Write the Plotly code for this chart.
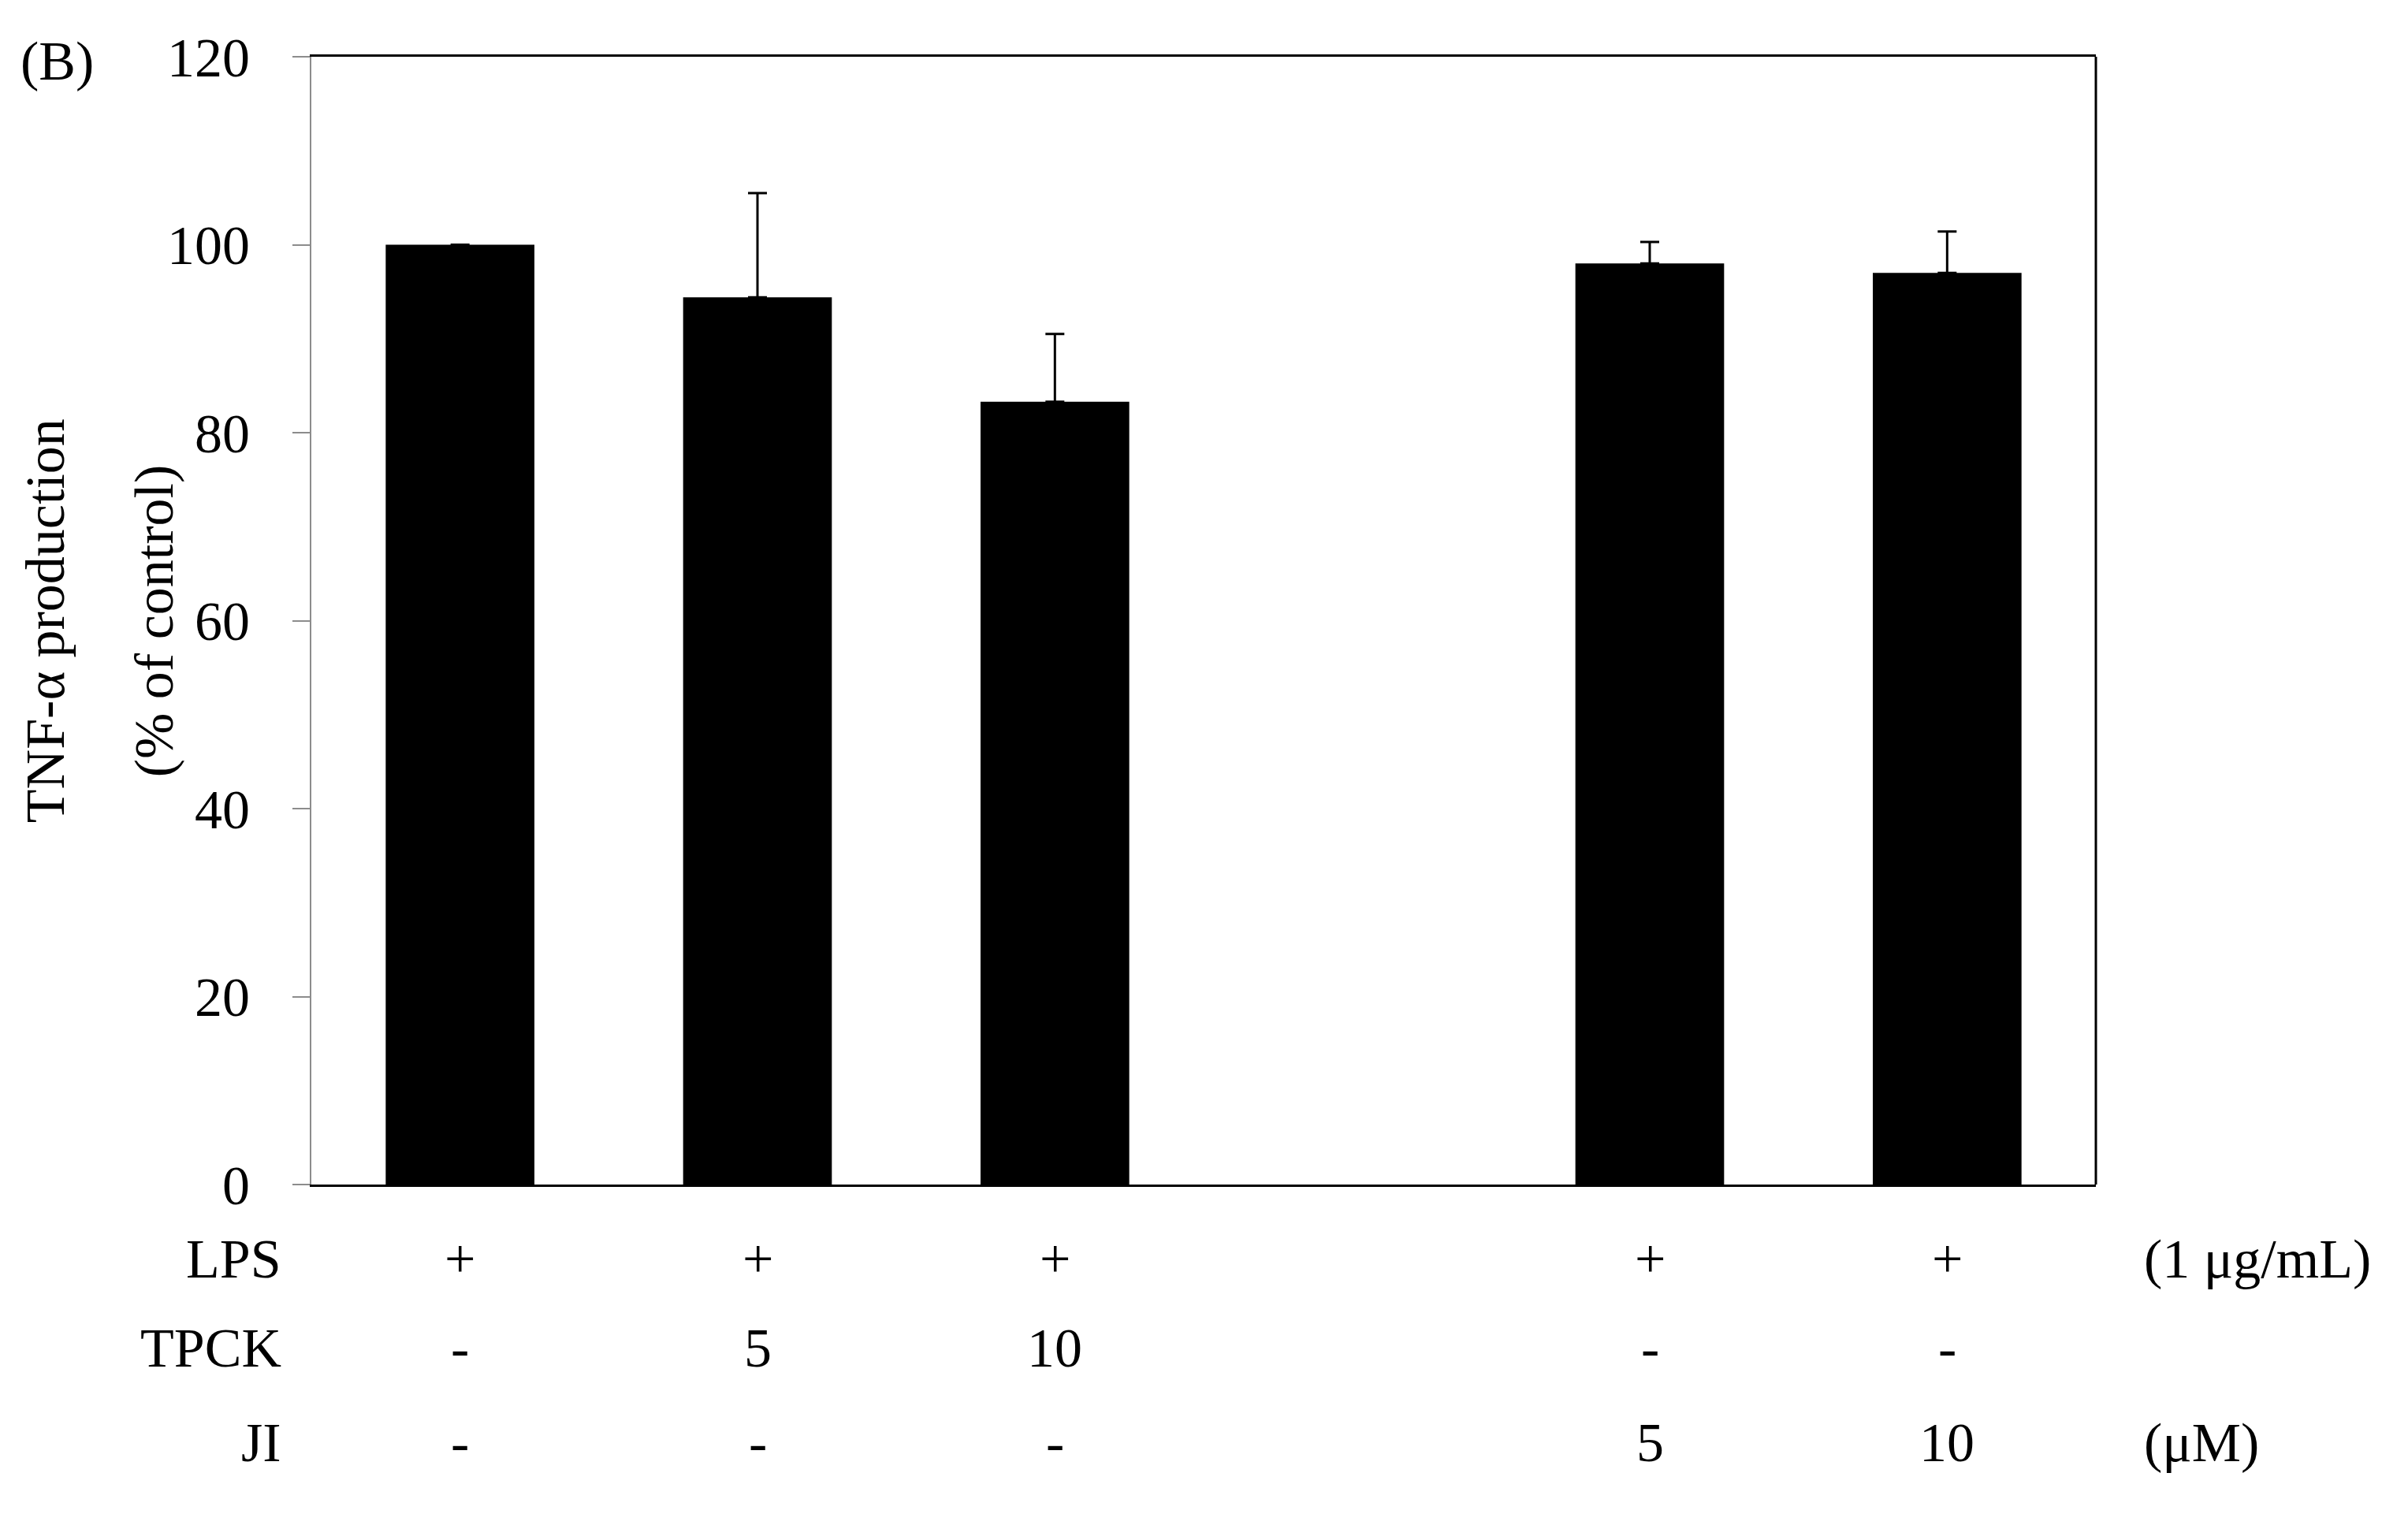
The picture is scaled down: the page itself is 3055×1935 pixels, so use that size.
import plotly.graph_objects as go

# bar positions (slot 3 is left empty in the original figure)
positions = [0, 1, 2, 4, 5]
tnf_values = [100.0, 94.4, 83.3, 98.0, 97.0]
tnf_errors = [None, 11.1, 7.2, 2.3, 4.4]  # control bar has no error bar

# treatment table under the axis
table_positions = [0, 1, 2, 4, 5]
lps_row = ['+', '+', '+', '+', '+']
tpck_row = ['-', '5', '10', '-', '-']
ji_row = ['-', '-', '-', '5', '10']
row_names = ['LPS', 'TPCK', 'JI']
row_units = ['(1 μg/mL)', '', '(μM)']

y_ticks = [0, 20, 40, 60, 80, 100, 120]

FONT = 'Liberation Serif, Times New Roman, serif'
FS = 70

fig = go.Figure()
fig.add_trace(go.Bar(
    x=positions,
    y=tnf_values,
    width=0.5,
    marker=dict(color='black', line=dict(color='black', width=0)),
    error_y=dict(
        type='data',
        array=tnf_errors,
        arrayminus=[0] * len(tnf_errors),
        symmetric=False,
        color='black',
        thickness=3,
        width=12,
    ),
    showlegend=False,
))

# table rows as annotations
row_y = [-0.066, -0.145, -0.229]
rows = [lps_row, tpck_row, ji_row]
annotations = []
for name, unit, vals, yy in zip(row_names, row_units, rows, row_y):
    annotations.append(dict(
        text=name, xref='paper', yref='paper', x=-0.016, y=yy,
        xanchor='right', yanchor='middle', showarrow=False,
        font=dict(family=FONT, size=FS, color='black'),
    ))
    for pos, v in zip(table_positions, vals):
        annotations.append(dict(
            text=v, xref='x', yref='paper', x=pos, y=yy,
            xanchor='center', yanchor='middle', showarrow=False,
            font=dict(family=FONT, size=FS, color='black'),
        ))
    if unit:
        annotations.append(dict(
            text=unit, xref='paper', yref='paper', x=1.026, y=yy,
            xanchor='left', yanchor='middle', showarrow=False,
            font=dict(family=FONT, size=FS, color='black'),
        ))

# y axis title (two separate lines, wide spacing)
annotations.append(dict(
    text='TNF-α production', xref='paper', yref='paper', x=-0.149, y=0.5,
    textangle=-90, xanchor='center', yanchor='middle', showarrow=False,
    font=dict(family=FONT, size=FS, color='black'),
))
annotations.append(dict(
    text='(% of control)', xref='paper', yref='paper', x=-0.088, y=0.5,
    textangle=-90, xanchor='center', yanchor='middle', showarrow=False,
    font=dict(family=FONT, size=FS, color='black'),
))
annotations.append(dict(
    text='(B)', xref='paper', yref='paper', x=-0.164, y=0.996,
    xanchor='left', yanchor='middle', showarrow=False,
    font=dict(family=FONT, size=FS, color='black'),
))

fig.update_layout(
    width=3055,
    height=1935,
    margin=dict(l=387, r=404, t=64, b=440),
    plot_bgcolor='white',
    paper_bgcolor='white',
    font=dict(family=FONT, size=FS, color='black'),
    annotations=annotations,
    xaxis=dict(
        range=[-0.5, 5.5],
        showticklabels=False,
        ticks='',
        showgrid=False,
        zeroline=False,
        showline=True,
        linecolor='black',
        linewidth=3,
        mirror=True,
    ),
    yaxis=dict(
        range=[0, 120],
        tickvals=y_ticks,
        ticks='outside',
        ticklen=22,
        tickwidth=2,
        tickcolor='#8c8c8c',
        ticklabelstandoff=40,
        showgrid=False,
        zeroline=False,
        showline=True,
        linecolor='#8c8c8c',
        linewidth=2,
        tickfont=dict(family=FONT, size=FS, color='black'),
    ),
)

# right frame edge
fig.add_shape(type='line', xref='paper', yref='paper', x0=1, x1=1, y0=0, y1=1,
              line=dict(color='black', width=3))

fig.write_html("out.html")
